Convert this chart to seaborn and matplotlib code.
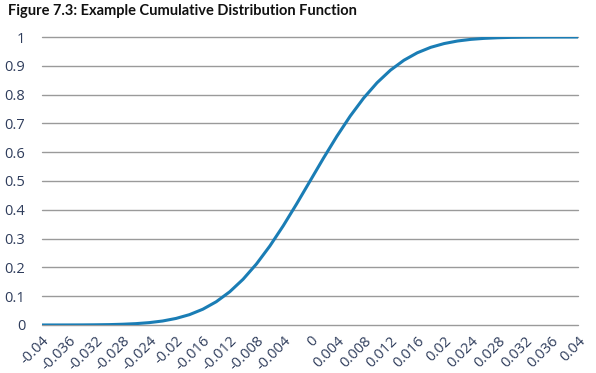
import numpy as np
import pandas as pd
import seaborn as sns
import matplotlib
matplotlib.use("Agg")
import matplotlib.pyplot as plt

# Data (x in steps of 0.002)
x_vals = [-0.040, -0.038, -0.036, -0.034, -0.032, -0.030, -0.028, -0.026, -0.024, -0.022,
          -0.020, -0.018, -0.016, -0.014, -0.012, -0.010, -0.008, -0.006, -0.004, -0.002,
          0.000, 0.002, 0.004, 0.006, 0.008, 0.010, 0.012, 0.014, 0.016, 0.018,
          0.020, 0.022, 0.024, 0.026, 0.028, 0.030, 0.032, 0.034, 0.036, 0.038, 0.040]
cdf_vals = [0.00003, 0.00007, 0.00016, 0.00034, 0.0007, 0.0013, 0.0026, 0.0047, 0.0082, 0.0139,
            0.0228, 0.0359, 0.0548, 0.0808, 0.1151, 0.1587, 0.2119, 0.2743, 0.3446, 0.4207,
            0.5000, 0.5793, 0.6554, 0.7257, 0.7881, 0.8413, 0.8849, 0.9192, 0.9452, 0.9641,
            0.9772, 0.9861, 0.9918, 0.9953, 0.9974, 0.9987, 0.9993, 0.99966, 0.99984, 0.99993, 0.99997]
x_ticks = [-0.04, -0.036, -0.032, -0.028, -0.024, -0.02, -0.016, -0.012, -0.008, -0.004,
           0, 0.004, 0.008, 0.012, 0.016, 0.02, 0.024, 0.028, 0.032, 0.036, 0.04]
x_tick_labels = ["-0.04", "-0.036", "-0.032", "-0.028", "-0.024", "-0.02", "-0.016", "-0.012",
                 "-0.008", "-0.004", "0", "0.004", "0.008", "0.012", "0.016", "0.02", "0.024",
                 "0.028", "0.032", "0.036", "0.04"]
y_ticks = [0, 0.1, 0.2, 0.3, 0.4, 0.5, 0.6, 0.7, 0.8, 0.9, 1]
y_tick_labels = ["0", "0.1", "0.2", "0.3", "0.4", "0.5", "0.6", "0.7", "0.8", "0.9", "1"]
title = "Figure 7.3: Example Cumulative Distribution Function"

df = pd.DataFrame({"x": x_vals, "cdf": cdf_vals})

sns.set_style("white")
plt.rcParams['font.family'] = ['Open Sans', 'DejaVu Sans']

fig = plt.figure(figsize=(5.96, 3.73), dpi=100)
ax = fig.add_axes([0.0705, 0.1287, 0.8995, 0.7721])

sns.lineplot(data=df, x="x", y="cdf", ax=ax, color="#1a7db5", linewidth=2.2, zorder=3)

ax.set_xlim(-0.04, 0.04)
ax.set_ylim(0, 1)
ax.set_yticks(y_ticks)
ax.set_yticklabels(y_tick_labels)
ax.set_xticks(x_ticks)
ax.set_xticklabels(x_tick_labels, rotation=45, ha="right", rotation_mode="anchor")
ax.tick_params(axis="both", length=0, labelsize=10.5, labelcolor="#2f3d5c")
ax.tick_params(axis="y", pad=12)
ax.tick_params(axis="x", pad=6)
ax.set_xlabel("")
ax.set_ylabel("")
for s in ax.spines.values():
    s.set_visible(False)
ax.grid(axis="y", color="#9a9a9a", linewidth=1.0)
ax.grid(axis="x", visible=False)
for gl in ax.get_ygridlines():
    gl.set_clip_on(False)

fig.text(0.013, 0.97, title, fontsize=10.5, fontweight="bold", family=["Lato", "DejaVu Sans"],
         ha="left", va="center", color="#111111")

fig.savefig("out.png", dpi=100)
